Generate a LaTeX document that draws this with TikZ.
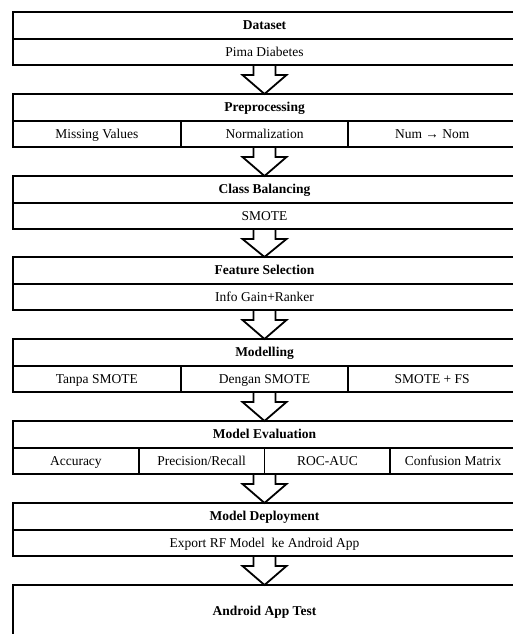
\documentclass[tikz,border=0pt]{standalone}
\usepackage{fontspec}
\setmainfont{Liberation Serif}
\usetikzlibrary{calc,fit}

\tikzset{
  cell/.style={draw, line width=1.8pt, inner sep=0pt, outer sep=0pt,
    minimum height=26pt, text height=9.5pt, text depth=0.8pt,
    font=\fontsize{13.5}{15}\selectfont},
  threecol/.style={cell, minimum width=167.67pt},
  fourcol/.style={cell, minimum width=125.75pt},
  wide/.style={cell, minimum width=503pt},
  head/.style={wide, minimum height=27pt, font=\fontsize{13.5}{15}\selectfont\bfseries},
  stageframe/.style={draw, line width=2.4pt, inner sep=0pt, outer sep=0pt, fit=#1},
  blockarrow/.style={draw, line width=1.8pt, line join=miter},
}

% Flecha de bloque entre dos etapas
\newcommand{\flowarrow}[2]{%
  \draw[blockarrow] ($(#1.south)+(-11,0)$) -- ++(0,-10) -- ++(-11,0) -- (#2.north)
    -- ($(#1.south)+(22,-10)$) -- ++(-11,0) -- ++(0,10);}

\begin{document}
\begin{tikzpicture}[x=1pt, y=1pt]
    \useasboundingbox (0,0) rectangle (512,-634);

    % Dataset
    \node[head] (dataset) at (264.5,-25.5) {Dataset};
    \node[wide] (pima) at (264.5,-52) {Pima Diabetes};
    \node[stageframe={(dataset)(pima)}] (stage1) {};

    % Preprocessing
    \node[head] (prep) at (264.5,-107.5) {Preprocessing};
    \node[threecol] (missing) at (96.83,-134) {Missing Values};
    \node[threecol] (norm) at (264.5,-134) {Normalization};
    \node[threecol] (numnom) at (432.17,-134) {Num → Nom};
    \node[stageframe={(prep)(missing)(numnom)}] (stage2) {};

    % Class Balancing
    \node[head] (balance) at (264.5,-189.5) {Class Balancing};
    \node[wide] (smote) at (264.5,-216) {SMOTE};
    \node[stageframe={(balance)(smote)}] (stage3) {};

    % Feature Selection
    \node[head] (featsel) at (264.5,-270.5) {Feature Selection};
    \node[wide] (infogain) at (264.5,-297) {Info Gain+Ranker};
    \node[stageframe={(featsel)(infogain)}] (stage4) {};

    % Modelling
    \node[head] (modelling) at (264.5,-352.5) {Modelling};
    \node[threecol] (tanpa) at (96.83,-379) {Tanpa SMOTE};
    \node[threecol] (dengan) at (264.5,-379) {Dengan SMOTE};
    \node[threecol] (smotefs) at (432.17,-379) {SMOTE + FS};
    \node[stageframe={(modelling)(tanpa)(smotefs)}] (stage5) {};

    % Model Evaluation
    \node[head] (evaluation) at (264.5,-434.5) {Model Evaluation};
    \node[fourcol] (accuracy) at (75.88,-461) {Accuracy};
    \node[fourcol] (precision) at (201.63,-461) {Precision/Recall};
    \node[fourcol] (rocauc) at (327.38,-461) {ROC-AUC};
    \node[fourcol] (confusion) at (453.13,-461) {Confusion Matrix};
    \node[stageframe={(evaluation)(accuracy)(confusion)}] (stage6) {};

    % Model Deployment
    \node[head] (deploy) at (264.5,-516.5) {Model Deployment};
    \node[wide] (export) at (264.5,-543) {Export RF Model\ \ ke Android App};
    \node[stageframe={(deploy)(export)}] (stage7) {};

    % Android App Test
    \node[head, minimum height=52pt] (apptest) at (264.5,-611) {Android App Test};
    \node[stageframe={(apptest)}] (stage8) {};

    % Flechas entre etapas
    \flowarrow{stage1}{stage2}
    \flowarrow{stage2}{stage3}
    \flowarrow{stage3}{stage4}
    \flowarrow{stage4}{stage5}
    \flowarrow{stage5}{stage6}
    \flowarrow{stage6}{stage7}
    \flowarrow{stage7}{stage8}

\end{tikzpicture}
\end{document}
